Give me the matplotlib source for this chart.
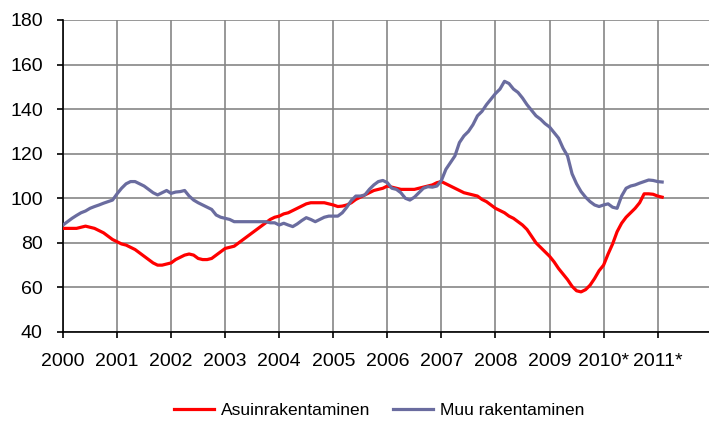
import numpy as np
import matplotlib
matplotlib.use("Agg")
import matplotlib.pyplot as plt

plt.rcParams['font.family'] = ['Liberation Sans', 'DejaVu Sans']

# monthly index values, Jan 2000 - Feb 2011
asuin = [
    86.5, 86.5, 86.5, 86.5, 87, 87.5, 87, 86.5, 85.5, 84.5, 83, 81.5,          # 2000
    80.5, 79.5, 79, 78, 77, 75.5, 74, 72.5, 71, 70, 70, 70.5,                  # 2001
    71, 72.5, 73.5, 74.5, 75, 74.5, 73, 72.5, 72.5, 73, 74.5, 76,              # 2002
    77.5, 78, 78.5, 80, 81.5, 83, 84.5, 86, 87.5, 89, 90.5, 91.5,              # 2003
    92, 93, 93.5, 94.5, 95.5, 96.5, 97.5, 98, 98, 98, 98, 97.5,                # 2004
    97, 96.3, 96.5, 97, 98, 99.5, 100.5, 101.5, 102.5, 103.5, 104, 104.5,      # 2005
    105.5, 105, 104.5, 104, 104, 104, 104, 104.5, 105, 105.5, 106, 107,        # 2006
    107.5, 106.5, 105.5, 104.5, 103.5, 102.5, 102, 101.5, 101, 99.5, 98.5, 97, # 2007
    95.5, 94.5, 93.5, 92, 91, 89.5, 88, 86, 83, 80, 78, 76,                    # 2008
    74, 71.5, 68.5, 66, 63.5, 60.5, 58.5, 58, 59, 61, 64, 67.5,                # 2009
    70, 75, 79.5, 85, 88.8, 91.5, 93.5, 95.5, 98, 102, 102, 101.8,             # 2010
    101, 100.5,                                                                # 2011
]
muu = [
    88, 89.5, 91, 92.3, 93.5, 94.3, 95.5, 96.3, 97, 97.8, 98.5, 99.2,          # 2000
    102, 104.5, 106.5, 107.5, 107.5, 106.5, 105.5, 104, 102.5, 101.5, 102.5, 103.5,
    102.2, 102.8, 103, 103.5, 101, 99.2, 98, 97, 96, 95, 92.5, 91.5,           # 2002
    91, 90.5, 89.5, 89.5, 89.5, 89.5, 89.5, 89.5, 89.5, 89.5, 89, 89,          # 2003
    88, 88.8, 88, 87.3, 88.5, 90, 91.3, 90.5, 89.5, 90.5, 91.5, 92,            # 2004
    92, 92, 93.5, 96, 99, 101, 101, 101.5, 104, 106, 107.5, 108,               # 2005
    107, 104.5, 104, 102.5, 100, 99.2, 100.5, 102.5, 104.5, 105.2, 105, 105.5, # 2006
    108, 113, 116, 119, 125, 128, 130, 133, 137, 139, 142, 144.5,              # 2007
    147, 149, 152.5, 151.5, 149, 147.5, 145, 142, 139.5, 137, 135.5, 133.5,    # 2008
    132, 129.5, 127, 122.5, 119, 111, 106.5, 103, 100.5, 98.5, 97, 96.3,       # 2009
    97, 97.5, 96, 95.5, 101, 104.5, 105.5, 106, 106.8, 107.5, 108.2, 108,      # 2010
    107.5, 107.3,                                                              # 2011
]
years = list(range(2000, 2012))
year_labels = [str(y) for y in range(2000, 2010)] + ['2010*', '2011*']

x = 2000 + np.arange(len(asuin)) / 12

fig = plt.figure(figsize=(7.09, 4.21), dpi=100)
ax = fig.add_axes([63 / 709, 89 / 421, 646 / 709, 312 / 421])

ax.plot(x, asuin, color='#ff0000', lw=2.3, label='Asuinrakentaminen', zorder=3)
ax.plot(x, muu, color='#6a6c9f', lw=2.3, label='Muu rakentaminen', zorder=3)

ax.set_xlim(2000, 2011.95)
ax.set_ylim(40, 180)
ax.set_yticks(range(40, 181, 20))
ax.set_xticks(years)
ax.set_xticklabels(year_labels)
ax.grid(True, color='#868686', lw=1.2, zorder=0)

for s in ['top', 'right']:
    ax.spines[s].set_visible(False)
for s in ['left', 'bottom']:
    ax.spines[s].set_color('black')
    ax.spines[s].set_linewidth(1.2)
ax.tick_params(axis='both', direction='out', length=4.5, width=1.2,
               labelsize=14, colors='black')
ax.tick_params(axis='y', pad=10)
ax.tick_params(axis='x', pad=10.5)

fig.legend(loc='center', bbox_to_anchor=(379 / 709, 1 - 410 / 421), ncol=2,
           frameon=False, fontsize=12.5, handlelength=2.3, columnspacing=1.3,
           handletextpad=0.4)

fig.savefig('out.png', dpi=100)
